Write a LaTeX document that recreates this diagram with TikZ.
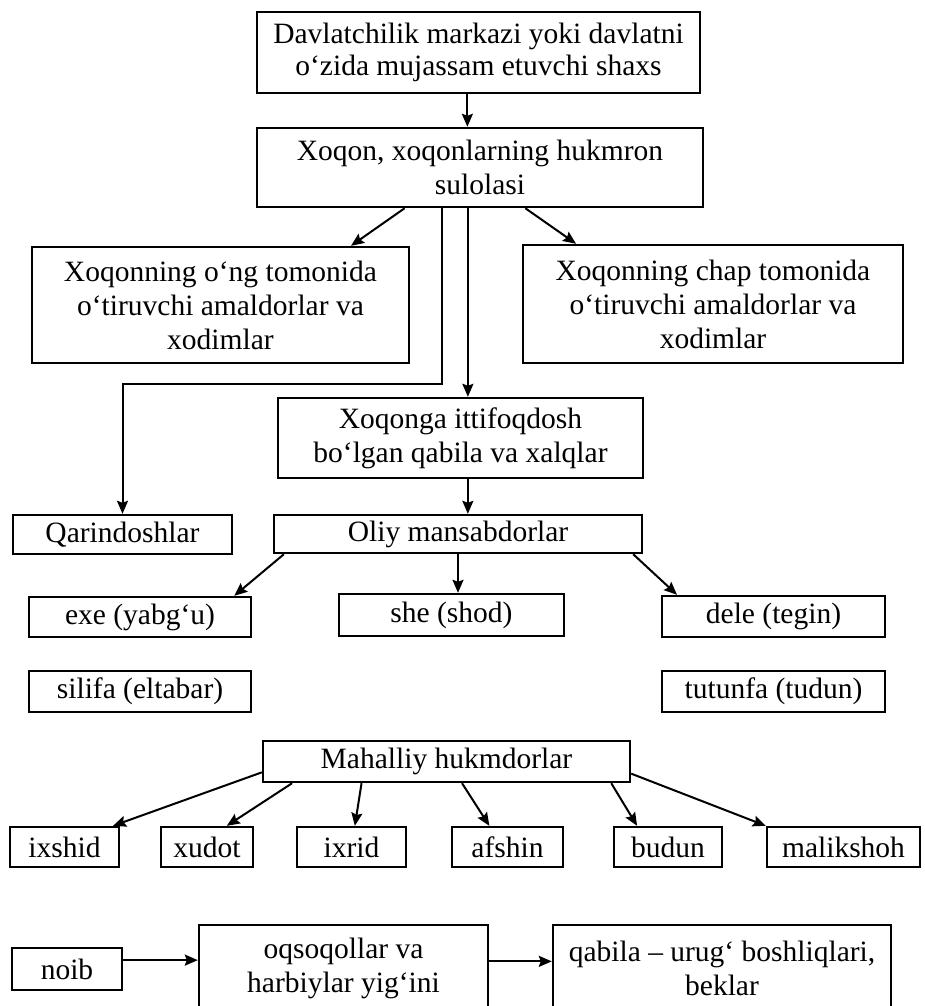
\documentclass[tikz,border=0pt]{standalone}
\usepackage{fontspec}
\setmainfont{Liberation Serif}
\usetikzlibrary{arrows.meta,calc}

\tikzset{
  box/.style={draw, line width=1.2pt, inner sep=0pt, align=center,
    font=\fontsize{14.75}{17}\selectfont},
  link/.style={line width=1pt, -{Stealth[length=6.5pt,width=5.5pt,inset=1pt]}}
}

\begin{document}
\begin{tikzpicture}[x=0.5pt,y=-0.5pt]
\useasboundingbox (0,0) rectangle (925,1006);
% The ruler and his dynasty
\node[box, minimum width=221.5pt, minimum height=40.5pt, font=\fontsize{14.75}{16}\selectfont]
  (centre) at (478.5,52.5) {Davlatchilik markazi yoki davlatni\\o‘zida mujassam etuvchi shaxs};
\node[box, minimum width=223pt, minimum height=39.5pt]
  (khan) at (480,167.5) {Xoqon, xoqonlarning hukmron\\sulolasi};
% Officials on both hands of the khan
\node[box, minimum width=188.5pt, minimum height=58pt]
  (rightside) at (220.5,305) {Xoqonning o‘ng tomonida\\o‘tiruvchi amaldorlar va\\xodimlar};
\node[box, minimum width=190pt, minimum height=59pt]
  (leftside) at (713,304) {Xoqonning chap tomonida\\o‘tiruvchi amaldorlar va\\xodimlar};
\node[box, minimum width=182.5pt, minimum height=40pt]
  (ally) at (460.5,438) {Xoqonga ittifoqdosh\\bo‘lgan qabila va xalqlar};
\node[box, minimum width=109.5pt, minimum height=19.5pt]
  (kin) at (122.5,534.5) {Qarindoshlar};
\node[box, minimum width=184pt, minimum height=19pt]
  (high) at (458,534) {Oliy mansabdorlar};
% High ranks
\node[box, minimum width=111pt, minimum height=20pt] (exe) at (140,617) {exe (yabg‘u)};
\node[box, minimum width=112.5pt, minimum height=21pt] (she) at (451.5,615) {she (shod)};
\node[box, minimum width=111.5pt, minimum height=20.5pt] (dele) at (773.5,616.5) {dele (tegin)};
\node[box, minimum width=111pt, minimum height=20.5pt] (silifa) at (140,691.5) {silifa (eltabar)};
\node[box, minimum width=111.5pt, minimum height=20.5pt] (tutunfa) at (773.5,691.5) {tutunfa (tudun)};
% Local rulers
\node[box, minimum width=183.5pt, minimum height=20.5pt]
  (local) at (446.5,761.5) {Mahalliy hukmdorlar};
\foreach \name/\x/\w in {ixshid/64.5/54.5, xudot/207/46, ixrid/351.5/54.5,
    afshin/507.5/55.5, budun/668/54, malikshoh/843.5/76.5}
  \node[box, minimum width=\w pt, minimum height=20pt] (\name) at (\x,847) {\name};
% Bottom row
\node[box, minimum width=55pt, minimum height=21pt] (noib) at (67,969) {noib};
\node[box, minimum width=144.5pt, minimum height=43.5pt]
  (assembly) at (343.5,968.5) {oqsoqollar va\\harbiylar yig‘ini};
\node[box, minimum width=169pt, minimum height=43.5pt]
  (chiefs) at (722,968.5) {qabila – urug‘ boshliqlari,\\beklar};

% Connectors
\coordinate (centreA) at ($(centre.south west)!.475!(centre.south east)$);
\draw[link] (centreA) -- (centreA |- khan.north);
\draw[link] ($(khan.south west)!.332!(khan.south east)$) -- ($(rightside.north west)!.844!(rightside.north east)$);
\draw[link] ($(khan.south west)!.601!(khan.south east)$) -- ($(leftside.north west)!.142!(leftside.north east)$);
\draw[link] ($(khan.south west)!.415!(khan.south east)$) -- ++(0,176) -| (kin.north);
\coordinate (khanA) at ($(khan.south west)!.473!(khan.south east)$);
\draw[link] (khanA) -- (khanA |- ally.north);
\coordinate (allyA) at ($(ally.south west)!.52!(ally.south east)$);
\draw[link] (allyA) -- (allyA |- high.north);
\draw[link] ($(high.south west)!.03!(high.south east)$) -- ($(exe.north west)!.92!(exe.north east)$);
\draw[link] (high.south) -- (high.south |- she.north);
\draw[link] ($(high.south west)!.973!(high.south east)$) -- ($(dele.north west)!.072!(dele.north east)$);
% Local rulers fan out
\draw[link] ($(local.north west)!.75!(local.south west)$) -- ($(ixshid.north west)!.936!(ixshid.north east)$);
\draw[link] ($(local.south west)!.082!(local.south east)$) -- ($(xudot.north west)!.71!(xudot.north east)$);
\draw[link] ($(local.south west)!.27!(local.south east)$) -- ($(ixrid.north west)!.53!(ixrid.north east)$);
\draw[link] ($(local.south west)!.542!(local.south east)$) -- ($(afshin.north west)!.34!(afshin.north east)$);
\draw[link] ($(local.south west)!.946!(local.south east)$) -- ($(budun.north west)!.22!(budun.north east)$);
\draw[link] ($(local.north east)!.78!(local.south east)$) -- (malikshoh.north west);
% Council chain
\coordinate (noibA) at ($(noib.north east)!.3!(noib.south east)$);
\draw[link] (noibA) -- (noibA -| assembly.west);
\coordinate (asmA) at ($(assembly.north east)!.42!(assembly.south east)$);
\draw[link] (asmA) -- (asmA -| chiefs.west);
\end{tikzpicture}
\end{document}
